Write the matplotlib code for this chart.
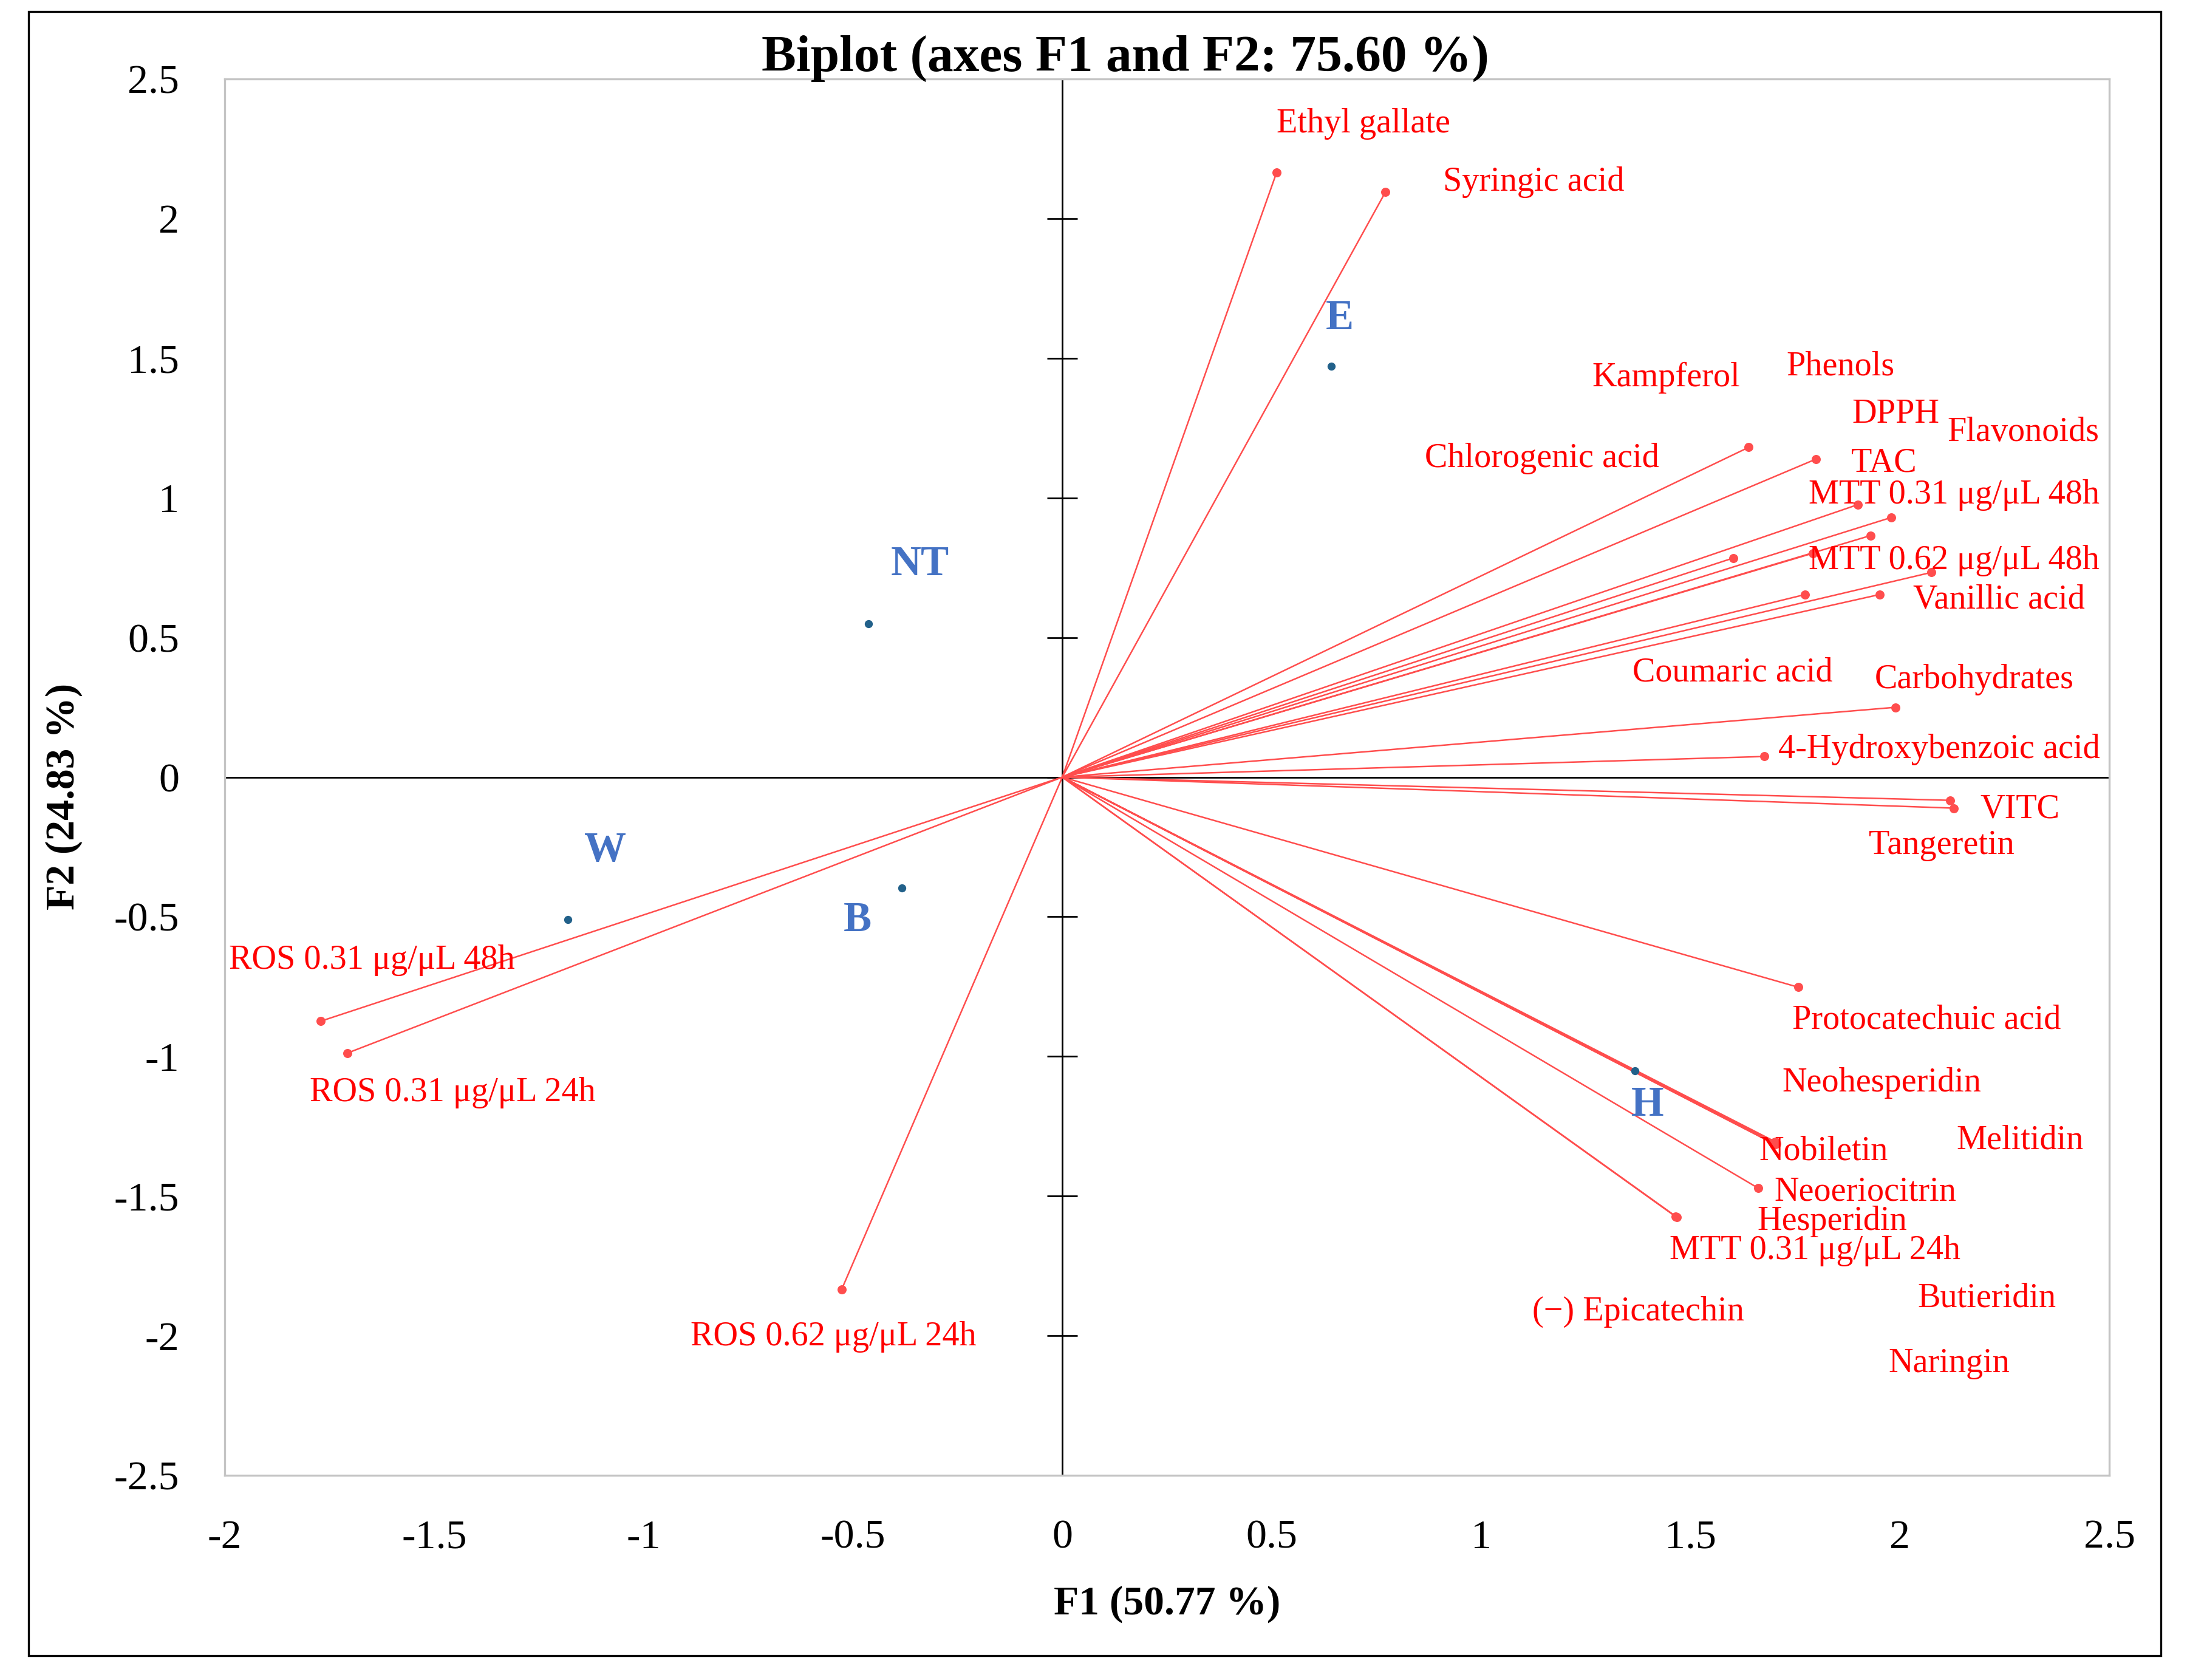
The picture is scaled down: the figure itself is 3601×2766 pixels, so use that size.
import matplotlib
matplotlib.use('Agg')
import matplotlib.pyplot as plt
from matplotlib.patches import Rectangle
import numpy as np

# ---------------- data ----------------
var_names = ['Ethyl gallate', 'Syringic acid', 'Kampferol', 'Phenols', 'DPPH',
             'Flavonoids', 'Chlorogenic acid', 'TAC', 'MTT 0.31 μg/μL 48h',
             'MTT 0.62 μg/μL 48h', 'Vanillic acid', 'Coumaric acid', 'Carbohydrates',
             '4-Hydroxybenzoic acid', 'VITC', 'Tangeretin', 'Protocatechuic acid',
             'Neohesperidin', 'Melitidin', 'Nobiletin', 'Neoeriocitrin', 'Hesperidin',
             'MTT 0.31 μg/μL 24h', '(−) Epicatechin', 'Butieridin', 'Naringin',
             'ROS 0.31 μg/μL 48h', 'ROS 0.31 μg/μL 24h', 'ROS 0.62 μg/μL 24h']
var_f1 = [0.512, 0.772, 1.639, 1.800, 1.980,
          2.075, 1.603, 1.900, 1.930,
          1.793, 1.952, 1.774, 1.989,
          1.677, 2.120, 2.129, 1.757,
          1.700, 1.705, 1.698, 1.662, 1.702,
          1.468, 1.465, 1.703, 1.700,
          -1.771, -1.707, -0.527]
var_f2 = [2.166, 2.096, 1.181, 1.139, 0.930,
          0.733, 0.785, 0.976, 0.865,
          0.802, 0.654, 0.654, 0.250,
          0.074, -0.083, -0.111, -0.752,
          -1.308, -1.312, -1.310, -1.472, -1.315,
          -1.576, -1.574, -1.306, -1.313,
          -0.874, -0.988, -1.835]

obs_names = ['E', 'NT', 'W', 'B', 'H']
obs_f1 = [0.642, -0.463, -1.180, -0.383, 1.368]
obs_f2 = [1.472, 0.550, -0.510, -0.396, -1.052]

xticks = [-2, -1.5, -1, -0.5, 0, 0.5, 1, 1.5, 2, 2.5]
xtick_labels = ['-2', '-1.5', '-1', '-0.5', '0', '0.5', '1', '1.5', '2', '2.5']
yticks = [-2.5, -2, -1.5, -1, -0.5, 0, 0.5, 1, 1.5, 2, 2.5]
ytick_labels = ['-2.5', '-2', '-1.5', '-1', '-0.5', '0', '0.5', '1', '1.5', '2', '2.5']

title = 'Biplot (axes F1 and F2: 75.60 %)'
xlabel = 'F1 (50.77 %)'
ylabel = 'F2 (24.83 %)'

# ---------------- layout (label placement, data coords) ----------------
var_label_pos = {
    'Ethyl gallate': (0.719, 2.34), 'Syringic acid': (1.125, 2.13),
    'Kampferol': (1.441, 1.43), 'Phenols': (1.858, 1.47), 'DPPH': (1.99, 1.30),
    'Flavonoids': (2.295, 1.235), 'Chlorogenic acid': (1.145, 1.14), 'TAC': (1.961, 1.125),
    'MTT 0.31 μg/μL 48h': (2.13, 1.01), 'MTT 0.62 μg/μL 48h': (2.13, 0.775),
    'Vanillic acid': (2.237, 0.635), 'Coumaric acid': (1.601, 0.375),
    'Carbohydrates': (2.177, 0.35), '4-Hydroxybenzoic acid': (2.094, 0.10),
    'VITC': (2.287, -0.115), 'Tangeretin': (2.10, -0.245),
    'Protocatechuic acid': (2.064, -0.87), 'Neohesperidin': (1.957, -1.095),
    'Melitidin': (2.287, -1.30), 'Nobiletin': (1.818, -1.34),
    'Neoeriocitrin': (1.917, -1.485), 'Hesperidin': (1.838, -1.59),
    'MTT 0.31 μg/μL 24h': (1.798, -1.695), '(−) Epicatechin': (1.375, -1.915),
    'Butieridin': (2.207, -1.865), 'Naringin': (2.117, -2.10),
    'ROS 0.31 μg/μL 48h': (-1.648, -0.655), 'ROS 0.31 μg/μL 24h': (-1.455, -1.13),
    'ROS 0.62 μg/μL 24h': (-0.546, -2.005),
}
obs_label_pos = {'E': (0.662, 1.64), 'NT': (-0.34, 0.76), 'W': (-1.092, -0.265),
                 'B': (-0.489, -0.515), 'H': (1.398, -1.175)}

plt.rcParams['font.family'] = ['Liberation Serif', 'DejaVu Serif']
plt.rcParams['axes.unicode_minus'] = False

W, H = 3601, 2766
fig = plt.figure(figsize=(W / 300, H / 300), dpi=300)
fig.patch.set_facecolor('white')

ax = fig.add_axes([370 / W, 1 - 2429 / H, (3473 - 370) / W, (2429 - 130) / H])
ax.set_xlim(-2, 2.5)
ax.set_ylim(-2.5, 2.5)

for sp in ax.spines.values():
    sp.set_color('#C4C4C4')
    sp.set_linewidth(0.8)

ax.set_xticks(xticks)
ax.set_xticklabels(xtick_labels)
ax.set_yticks(yticks)
ax.set_yticklabels(ytick_labels)
ax.tick_params(axis='both', length=0, labelsize=16.3, colors='black')
ax.tick_params(axis='x', pad=17.5)
ax.tick_params(axis='y', pad=18)

# zero axes with ticks on the vertical one
ax.axhline(0, color='black', lw=0.65, zorder=1.5)
ax.axvline(0, color='black', lw=0.65, zorder=1.5)
ax.plot(np.zeros(len(yticks)), yticks, ls='none', marker='_', ms=12.2, mew=0.65,
        color='black', clip_on=False, zorder=1.6)

# variable vectors
line_col = '#FF4D4D'
for x, y in zip(var_f1, var_f2):
    ax.plot([0, x], [0, y], color=line_col, lw=0.6, zorder=2, solid_capstyle='butt')
ax.plot(var_f1, var_f2, ls='none', marker='o', ms=3.6, color=line_col, mec='none', zorder=3)

# observations
ax.plot(obs_f1, obs_f2, ls='none', marker='o', ms=3.2, color='#22618A', mec='none', zorder=4)

for name in var_names:
    lx, ly = var_label_pos[name]
    ax.text(lx, ly, name, color='#FF0000', fontsize=13.5, ha='center', va='center', zorder=5)
for name in obs_names:
    lx, ly = obs_label_pos[name]
    ax.text(lx, ly, name, color='#4472C4', fontsize=16.6, fontweight='bold',
            ha='center', va='center', zorder=5)

ax.set_xlabel(xlabel, fontsize=16.2, fontweight='bold')
ax.xaxis.set_label_coords(0.5, (2429 - 2641) / 2299)
ax.xaxis.label.set_va('center')
ax.set_ylabel(ylabel, fontsize=16.2, fontweight='bold')
ax.yaxis.set_label_coords((105 - 370) / 3103, (2429 - 1311) / 2299)
ax.yaxis.label.set_va('center')

fig.text(1853 / W, 1 - 117 / H, title, fontsize=20.5, fontweight='bold',
         ha='center', va='baseline')

# outer frame
fig.patches.append(Rectangle((47 / W, 1 - 2726 / H), (3558 - 47) / W, (2726 - 19) / H,
                             transform=fig.transFigure, fill=False, edgecolor='black',
                             linewidth=0.8))

fig.savefig('out.png', dpi=300)
